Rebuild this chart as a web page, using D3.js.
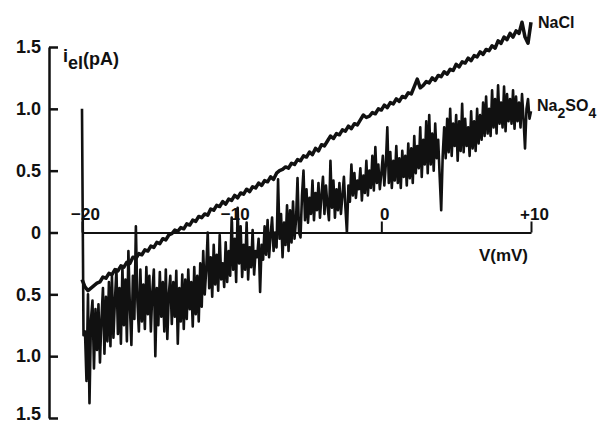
<!DOCTYPE html>
<html>
<head>
<meta charset="utf-8">
<script src="https://cdn.jsdelivr.net/npm/d3@7"></script>
<style>
  body { margin: 0; background: #fff; }
  svg text { font-family: "Liberation Sans", Arial, sans-serif; font-weight: bold; fill: #111; }
  .axis path, .axis line { stroke: #111; }
</style>
</head>
<body>
<div id="chart"></div>
<script>
// Sweep voltage grids (mV): both traces start at -20 mV
var vStart = -20;
var naclStep = 0.2;
var na2so4Step = 0.1;

// Current i_el (pA), one value per 0.2 mV
var naclValues = [
  -0.38, -0.44, -0.47, -0.45, -0.43, -0.41, -0.40, -0.36, -0.37, -0.33,
  -0.34, -0.30, -0.31, -0.27, -0.28, -0.24, -0.25, -0.20, -0.21, -0.17,
  -0.18, -0.14, -0.15, -0.11, -0.12, -0.08, -0.09, -0.05, -0.06, -0.02,
  -0.01, 0.02, 0.01, 0.04, 0.03, 0.07, 0.06, 0.10, 0.09, 0.13,
  0.12, 0.15, 0.14, 0.19, 0.18, 0.22, 0.21, 0.25, 0.23, 0.27,
  0.26, 0.30, 0.28, 0.32, 0.31, 0.35, 0.33, 0.37, 0.36, 0.40,
  0.38, 0.42, 0.41, 0.45, 0.43, 0.48, 0.50, 0.51, 0.53, 0.52,
  0.56, 0.55, 0.59, 0.58, 0.62, 0.61, 0.65, 0.63, 0.68, 0.66,
  0.71, 0.70, 0.74, 0.78, 0.76, 0.80, 0.79, 0.83, 0.82, 0.86,
  0.84, 0.88, 0.87, 0.91, 0.95, 0.93, 0.94, 0.97, 0.96, 1.00,
  0.99, 1.03, 1.01, 1.05, 1.04, 1.08, 1.06, 1.10, 1.09, 1.13,
  1.12, 1.18, 1.24, 1.17, 1.19, 1.22, 1.21, 1.25, 1.23, 1.27,
  1.26, 1.30, 1.28, 1.32, 1.31, 1.36, 1.34, 1.38, 1.37, 1.41,
  1.39, 1.43, 1.42, 1.46, 1.44, 1.48, 1.47, 1.51, 1.49, 1.55,
  1.53, 1.58, 1.56, 1.61, 1.58, 1.63, 1.61, 1.70, 1.58, 1.53,
  1.70
];

// Current i_el (pA), one value per 0.1 mV
var na2so4Values = [
  1.00, -0.83, -0.80, -1.20, -0.50, -1.38, -0.70, -0.55, -1.10, -0.62,
  -0.95, -0.58, -1.05, -0.70, -0.45, -0.98, -0.52, -0.88, -0.40, -0.92,
  -0.35, -0.85, -0.55, -0.30, -0.82, -0.45, -0.90, -0.28, -0.75, -0.38,
  -0.88, -0.15, -0.60, -0.91, -0.35, -0.70, 0.05, -0.55, -0.80, -0.30,
  -0.72, -0.42, -0.78, -0.28, -0.66, -0.35, -0.80, -0.48, -0.30, -1.00,
  -0.45, -0.75, -0.32, -0.68, -0.40, -0.80, -0.30, -0.86, -0.50, -0.35,
  -0.74, -0.40, -0.68, -0.31, -0.90, -0.45, -0.72, -0.34, -0.78, -0.38,
  -0.70, -0.30, -0.62, -0.40, -0.76, -0.28, -0.66, -0.35, -0.72, -0.25,
  -0.60, -0.15, -0.50, -0.30, 0.00, -0.45, -0.20, -0.52, -0.10, -0.42,
  -0.18, -0.47, -0.02, -0.38, -0.25, -0.44, -0.08, -0.40, -0.15, -0.35,
  0.12, -0.30, -0.05, -0.40, 0.20, -0.25, 0.05, -0.36, -0.10, -0.30,
  0.08, -0.38, -0.12, -0.28, 0.02, -0.34, -0.15, -0.20, -0.05, -0.48,
  -0.10, -0.22, 0.05, -0.18, 0.10, -0.20, -0.02, 0.12, -0.15, 0.00,
  -0.12, 0.43, -0.05, 0.15, -0.20, 0.08, -0.10, 0.22, -0.15, 0.18,
  -0.08, 0.25, -0.05, 0.10, 0.44, 0.00, -0.04, 0.30, 0.50, 0.10,
  0.35, 0.08, 0.28, 0.15, 0.42, 0.10, 0.32, 0.18, 0.40, 0.12,
  0.30, 0.45, 0.15, 0.38, 0.22, 0.10, 0.58, 0.20, 0.42, 0.12,
  0.35, 0.18, 0.40, 0.15, 0.30, 0.45, 0.20, 0.00, 0.38, 0.25,
  0.55, 0.30, 0.48, 0.28, 0.42, 0.35, 0.52, 0.26, 0.46, 0.32,
  0.58, 0.30, 0.50, 0.36, 0.62, 0.34, 0.69, 0.40, 0.55, 0.35,
  0.48, 0.62, 0.38, 0.55, 0.85, 0.40, 0.65, 0.36, 0.58, 0.42,
  0.70, 0.40, 0.60, 0.36, 0.66, 0.45, 0.62, 0.38, 0.72, 0.44,
  0.68, 0.40, 0.78, 0.48, 0.70, 0.52, 0.85, 0.45, 0.75, 0.55,
  0.90, 0.48, 0.95, 0.55, 0.80, 0.50, 0.88, 0.60, 0.75, 0.45,
  0.18, 0.62, 0.85, 0.60, 0.92, 0.65, 1.00, 0.62, 0.88, 0.70,
  0.95, 0.58, 0.90, 0.66, 1.04, 0.65, 0.92, 0.70, 0.85, 0.62,
  0.98, 0.68, 0.90, 0.66, 1.00, 0.72, 0.95, 0.75, 1.05, 0.78,
  1.10, 0.80, 1.00, 0.78, 1.15, 0.85, 1.08, 0.80, 1.19, 0.88,
  1.05, 0.85, 1.18, 0.82, 1.12, 0.90, 1.08, 0.88, 1.15, 0.84,
  1.10, 0.90, 1.05, 0.85, 1.12, 0.92, 0.68, 1.00, 1.08, 0.92,
  0.98
];

var yTicks = [-1.5, -1.0, -0.5, 0, 0.5, 1.0, 1.5];
var xTicks = [-20, -10, 0, 10];
var xTickLabels = ["\u221220", "\u221210", "0", "+10"];

var svgWidth = 603;
var svgHeight = 426;

var svg = d3.select("#chart")
  .append("svg")
  .attr("width", svgWidth)
  .attr("height", svgHeight);

var xScale = d3.scaleLinear().domain([-20, 10]).range([82, 531]);
var yScale = d3.scaleLinear().domain([-1.5, 1.5]).range([418, 47]);

// Y axis: ticks point inward (right), labels without sign as in the print
var leftAxis = d3.axisLeft(yScale)
  .tickValues(yTicks)
  .tickSizeInner(-9)
  .tickSizeOuter(0)
  .tickPadding(8)
  .tickFormat(d => d === 0 ? "0" : Math.abs(d).toFixed(1));

var yAxisG = svg.append("g")
  .attr("class", "axis")
  .attr("transform", "translate(49,0)")
  .call(leftAxis);
yAxisG.select(".domain").attr("stroke-width", 2.5);
yAxisG.selectAll(".tick line").attr("stroke-width", 2.5);
yAxisG.selectAll(".tick text")
  .attr("font-size", "18px")
  .attr("fill", "#111");
// bottom label sits right at the page edge; nudge it up so it stays whole
yAxisG.selectAll(".tick text")
  .filter(d => d === -1.5)
  .attr("dy", "0.1em");

// X axis through i = 0, ticks pointing up, labels above
var topAxis = d3.axisTop(xScale)
  .tickValues(xTicks)
  .tickSizeInner(11)
  .tickSizeOuter(0)
  .tickPadding(2)
  .tickFormat((d, i) => xTickLabels[i]);

var xAxisG = svg.append("g")
  .attr("class", "axis")
  .attr("transform", `translate(0, ${yScale(0)})`)
  .call(topAxis);
xAxisG.select(".domain").attr("stroke-width", 2);
xAxisG.selectAll(".tick line").attr("stroke-width", 2);
xAxisG.selectAll(".tick text")
  .attr("font-size", "17px")
  .attr("fill", "#111")
  .attr("dx", 3);

// Traces
var naclLine = d3.line()
  .x((d, i) => xScale(vStart + i * naclStep))
  .y(d => yScale(d));

var na2so4Line = d3.line()
  .x((d, i) => xScale(vStart + i * na2so4Step))
  .y(d => yScale(d));

svg.append("path")
  .datum(na2so4Values)
  .attr("fill", "none")
  .attr("stroke", "#111")
  .attr("stroke-width", 2.6)
  .attr("stroke-linejoin", "round")
  .attr("d", na2so4Line);

svg.append("path")
  .datum(naclValues)
  .attr("fill", "none")
  .attr("stroke", "#111")
  .attr("stroke-width", 3.5)
  .attr("stroke-linejoin", "round")
  .attr("d", naclLine);

// Axis titles
var yTitle = svg.append("text")
  .attr("x", 63)
  .attr("y", 62)
  .attr("font-size", "18px");
yTitle.append("tspan").text("i");
yTitle.append("tspan").attr("dy", 7).text("el");
yTitle.append("tspan").attr("dy", -4).text("(pA)");

svg.append("text")
  .attr("x", 528)
  .attr("y", 261)
  .attr("text-anchor", "end")
  .attr("font-size", "17px")
  .text("V(mV)");

// Trace labels
svg.append("text")
  .attr("x", 538)
  .attr("y", 28)
  .attr("font-size", "16px")
  .text("NaCl");

var saltLabel = svg.append("text")
  .attr("x", 537)
  .attr("y", 111)
  .attr("font-size", "16px");
saltLabel.append("tspan").text("Na");
saltLabel.append("tspan").attr("dy", 7).attr("font-size", "14px").text("2");
saltLabel.append("tspan").attr("dy", -7).text("SO");
saltLabel.append("tspan").attr("dy", 7).attr("font-size", "14px").text("4");
</script>
</body>
</html>
